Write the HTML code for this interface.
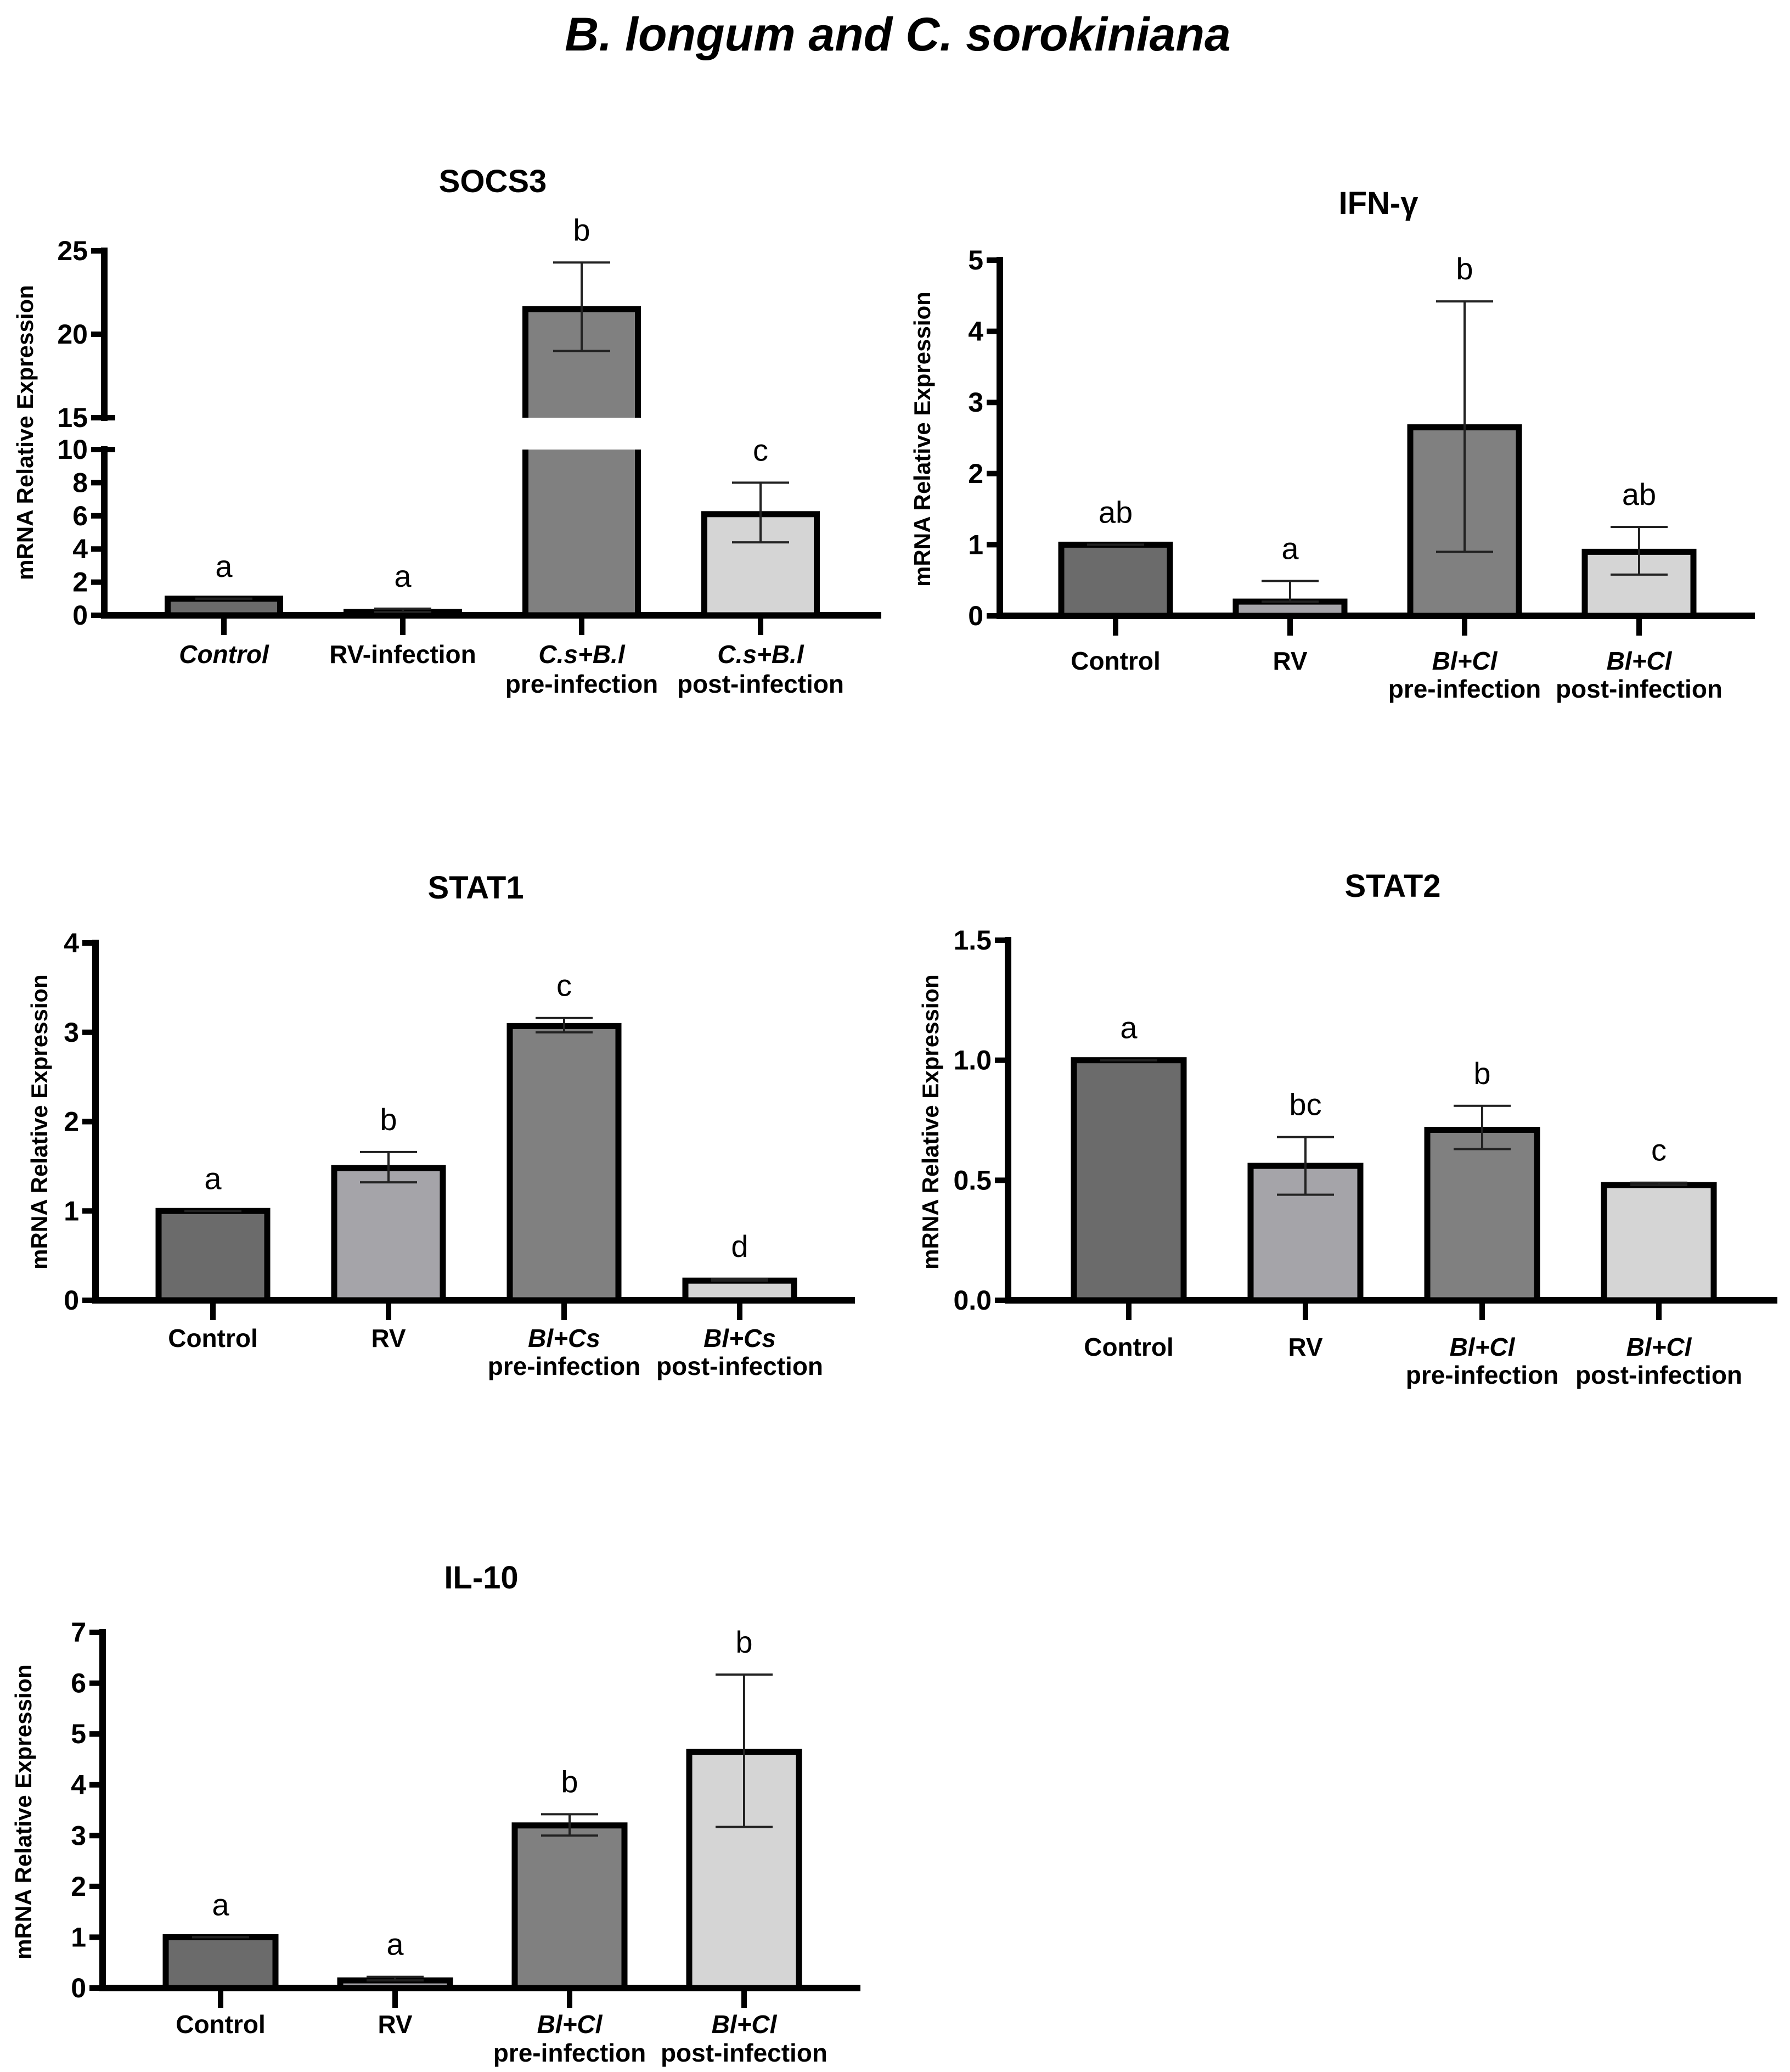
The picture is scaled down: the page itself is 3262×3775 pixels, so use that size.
<!DOCTYPE html>
<html><head><meta charset="utf-8">
<style>html,body{margin:0;padding:0;background:#fff}svg{display:block}
text{font-family:"Liberation Sans Narrow","Liberation Sans",Arial,sans-serif}</style></head>
<body>
<svg id="fig" width="3262" height="3775" viewBox="0 0 3262 3775" xmlns="http://www.w3.org/2000/svg">
<text x="1636" y="92" text-anchor="middle" font-size="86" font-weight="bold" font-style="italic" style='font-family:"Liberation Sans",sans-serif'>B. longum and C. sorokiniana</text>
</svg>
<script>
// ---- data ----
const socs3Values = [1, 0.2, 21.5, 6.1];
const socs3ErrLow = [1, 0.2, 19.0, 4.4];
const socs3ErrHigh = [1, 0.4, 24.3, 8.0];
const socs3Letters = ["a", "a", "b", "c"];
const socs3Ticks = ["0","2","4","6","8","10","15","20","25"];

const ifnValues = [1, 0.2, 2.65, 0.9];
const ifnErrLow = [1, 0.2, 0.9, 0.58];
const ifnErrHigh = [1, 0.49, 4.42, 1.25];
const ifnLetters = ["ab", "a", "b", "ab"];
const ifnTicks = ["0","1","2","3","4","5"];

const stat1Values = [1, 1.48, 3.07, 0.22];
const stat1ErrLow = [1, 1.32, 3.0, 0.22];
const stat1ErrHigh = [1, 1.66, 3.16, 0.24];
const stat1Letters = ["a", "b", "c", "d"];
const stat1Ticks = ["0","1","2","3","4"];

const stat2Values = [1.0, 0.56, 0.71, 0.48];
const stat2ErrLow = [1.0, 0.44, 0.63, 0.48];
const stat2ErrHigh = [1.0, 0.68, 0.81, 0.49];
const stat2Letters = ["a", "bc", "b", "c"];
const stat2Ticks = ["0.0","0.5","1.0","1.5"];

const il10Values = [1, 0.15, 3.2, 4.65];
const il10ErrLow = [1, 0.15, 3.0, 3.17];
const il10ErrHigh = [1, 0.22, 3.42, 6.17];
const il10Letters = ["a", "a", "b", "b"];
const il10Ticks = ["0","1","2","3","4","5","6","7"];

const socs3Cats = [["Control",null,true],["RV-infection",null,false],["C.s+B.l","pre-infection",true],["C.s+B.l","post-infection",true]];
const blclCats = [["Control",null,false],["RV",null,false],["Bl+Cl","pre-infection",true],["Bl+Cl","post-infection",true]];
const blcsCats = [["Control",null,false],["RV",null,false],["Bl+Cs","pre-infection",true],["Bl+Cs","post-infection",true]];

const colors = ["#6b6b6b", "#a5a4a9", "#808080", "#d5d5d5"];
const svg = document.getElementById('fig');
const NS = "http://www.w3.org/2000/svg";
function mk(tag, attrs, parent){const e=document.createElementNS(NS,tag);for(const k in attrs)e.setAttribute(k,attrs[k]);(parent||svg).appendChild(e);return e;}

function panel(cfg){
  const g = mk('g',{});
  
  
  const t = mk('text',{x:cfg.titleX,y:cfg.titleY,'text-anchor':'middle','font-size':58,'font-weight':'bold'},g);
  t.textContent = cfg.title;
  
  
  const yt = mk('text',{x:0,y:0,'text-anchor':'middle','font-size':42,'font-weight':'bold',transform:`translate(${cfg.ytX},${cfg.ytY}) rotate(-90)`,style:'font-family:"Liberation Sans",sans-serif'},g);
  yt.textContent = 'mRNA Relative Expression';
  
  
  const Y = cfg.yScale;
  const ax = mk('g',{},g);
  
  
  cfg.axisSegs.forEach(s=>mk('line',{x1:cfg.ax,x2:cfg.ax,y1:Y(s[0])+6,y2:Y(s[1])-6,stroke:'#000','stroke-width':12},ax));
  cfg.ticks.forEach(tk=>{
    const v=parseFloat(tk), y=Y(v);
    const wide = cfg.wideTicks && cfg.wideTicks.includes(v);
    mk('line',{x1:cfg.ax-24,x2:cfg.ax+(wide?20:0),y1:y,y2:y,stroke:'#000','stroke-width':10},ax);
    const tl = mk('text',{x:cfg.ax-30,y:y+17,'text-anchor':'end','font-size':50,'font-weight':'bold'},ax);
    tl.textContent = tk;
    
    
  });
  const y0 = Y(0);
  const xa = mk('line',{x1:cfg.ax-6,x2:cfg.axEnd,y1:y0,y2:y0,stroke:'#000','stroke-width':12},g);
  
  
  cfg.values.forEach((v,i)=>{
    const cx = cfg.first + i*cfg.step, w = cfg.bw;
    const bg = mk('g',{},g);
    
    
    const top = Y(v);
    mk('rect',{x:cx-w/2,y:top,width:w,height:y0-top,fill:colors[i],stroke:'#000','stroke-width':11},bg);
    if(cfg.gap && v>cfg.gap[1]){
      mk('rect',{x:cx-w/2-10,y:Y(cfg.gap[1]),width:w+20,height:Y(cfg.gap[0])-Y(cfg.gap[1]),fill:'#fff'},bg);
    }
    const hi=Y(cfg.errHigh[i]), lo=Y(cfg.errLow[i]);
    const eb = mk('g',{stroke:'#222','stroke-width':4},bg);
    
    
    mk('line',{x1:cx,x2:cx,y1:hi,y2:lo},eb);
    mk('line',{x1:cx-52,x2:cx+52,y1:hi,y2:hi},eb);
    mk('line',{x1:cx-52,x2:cx+52,y1:lo,y2:lo},eb);
    const lt = mk('text',{x:cx,y:Math.min(hi,top)-40,'text-anchor':'middle','font-size':56},g);
    lt.textContent = cfg.letters[i];
    
    
    mk('line',{x1:cx,x2:cx,y1:y0,y2:y0+36,stroke:'#000','stroke-width':10},g);
    const c = cfg.cats[i];
    const l1 = mk('text',{x:cx,y:cfg.lab1,'text-anchor':'middle','font-size':46,'font-weight':'bold','font-style':c[2]?'italic':'normal'},g);
    l1.textContent = c[0];
    
    
    if(c[1]){
      const l2 = mk('text',{x:cx,y:cfg.lab2,'text-anchor':'middle','font-size':46,'font-weight':'bold'},g);
      l2.textContent = c[1];
      
      
    }
  });
}
function lin(v0px, vmax, vmaxpx){ return v => v0px - v/vmax*(v0px - vmaxpx); }

const socsY = v => v<=12.5 ? 1121 - v/10*(1121-819) : 761 - (v-15)/10*(761-457);
panel({name:'socs3',title:'SOCS3',titleX:898,titleY:350,ytX:60,ytY:788,yScale:socsY,axisSegs:[[0,10],[15,25]],
  ticks:socs3Ticks,wideTicks:[10,15],gap:[10,15],ax:190,axEnd:1606,first:408,step:326,bw:205,
  values:socs3Values,errLow:socs3ErrLow,errHigh:socs3ErrHigh,letters:socs3Letters,cats:socs3Cats,lab1:1208,lab2:1262});
panel({name:'ifn-gamma',title:'IFN-γ',titleX:2512,titleY:390,ytX:1695,ytY:800,yScale:lin(1122,5,474),axisSegs:[[0,5]],
  ticks:ifnTicks,ax:1822,axEnd:3198,first:2033,step:318,bw:198,
  values:ifnValues,errLow:ifnErrLow,errHigh:ifnErrHigh,letters:ifnLetters,cats:blclCats,lab1:1220,lab2:1271});
panel({name:'stat1',title:'STAT1',titleX:867,titleY:1637,ytX:86,ytY:2044,yScale:lin(2369,4,1718),axisSegs:[[0,4]],
  ticks:stat1Ticks,ax:174,axEnd:1558,first:388,step:320,bw:198,
  values:stat1Values,errLow:stat1ErrLow,errHigh:stat1ErrHigh,letters:stat1Letters,cats:blcsCats,lab1:2454,lab2:2505});
panel({name:'stat2',title:'STAT2',titleX:2538,titleY:1634,ytX:1710,ytY:2044,yScale:lin(2369,1.5,1713),axisSegs:[[0,1.5]],
  ticks:stat2Ticks,ax:1837,axEnd:3239,first:2057,step:322,bw:200,
  values:stat2Values,errLow:stat2ErrLow,errHigh:stat2ErrHigh,letters:stat2Letters,cats:blclCats,lab1:2470,lab2:2521});
panel({name:'il10',title:'IL-10',titleX:877,titleY:2894,ytX:57,ytY:3301,yScale:lin(3622,7,2974),axisSegs:[[0,7]],
  ticks:il10Ticks,ax:187,axEnd:1568,first:402,step:318,bw:200,
  values:il10Values,errLow:il10ErrLow,errHigh:il10ErrHigh,letters:il10Letters,cats:blclCats,lab1:3704,lab2:3756});
</script>
</body></html>
